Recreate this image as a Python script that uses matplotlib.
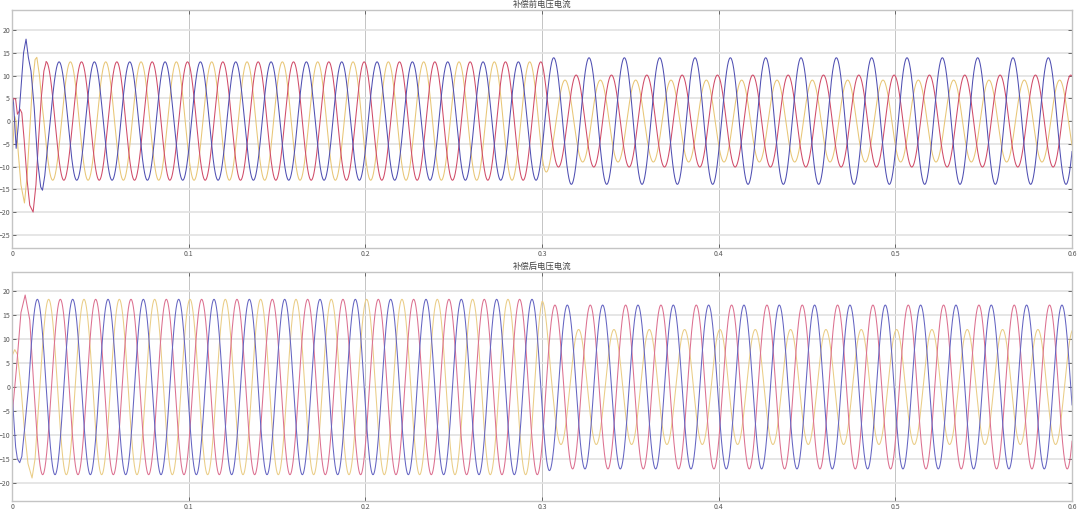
import numpy as np
import matplotlib
matplotlib.use("Agg")
import matplotlib.pyplot as plt

plt.rcParams['font.family'] = ['Noto Sans CJK SC', 'DejaVu Sans']

# ---------------- 数据 ----------------
FREQ = 50.0          # Hz
T_END = 0.6
T_SWITCH = 0.3       # 负载切换时刻
T_RAMP = 0.306

PHASES = ['A', 'B', 'C']

# 补偿前：稳态峰值时刻(一个周期内)、切换前后幅值
top_peak_time = [0.0066, 0.0193, 0.0130]
top_amp_before = [13.0, 13.0, 13.0]
top_amp_after = [13.9, 10.1, 9.0]

# 补偿前启动暂态 (t, 值)
top_tr_t_A = [0, 0.0008, 0.0023, 0.0035, 0.0048, 0.0065, 0.0079, 0.0092, 0.0107,
              0.0125, 0.0145, 0.0162, 0.0172, 0.0185, 0.0200, 0.0216]
top_tr_v_A = [5.5, 4.0, -6.0, -1.0, 6.0, 15.0, 18.0, 14.0, 11.0,
              3.0, -9.0, -14.5, -15.2, -12.0, -6.0, 0.0]
top_tr_t_B = [0, 0.0008, 0.0020, 0.0030, 0.0038, 0.0045, 0.0055, 0.0068, 0.0085,
              0.0100, 0.0119, 0.0135, 0.0150, 0.0165, 0.0180, 0.0193]
top_tr_v_B = [3.0, 5.0, 4.8, 1.5, 2.0, 2.6, 1.8, -4.0, -13.0,
              -18.5, -20.0, -14.0, -4.0, 5.0, 11.0, 13.0]
top_tr_t_C = [0, 0.0008, 0.0015, 0.0022, 0.0035, 0.0050, 0.0070, 0.0085, 0.0100,
              0.0115, 0.0130, 0.0140, 0.0155, 0.0170, 0.0180]
top_tr_v_C = [-8.0, -3.0, 1.0, 0.0, -7.0, -14.0, -18.0, -12.0, -2.0,
              8.0, 13.5, 14.0, 10.0, 3.5, 0.0]

# 补偿后
bot_peak_time = [0.0143, 0.0073, 0.0007]
bot_amp_before = [18.3, 18.3, 18.3]
bot_amp_after = [17.1, 17.1, 12.0]

bot_tr_t_A = [0, 0.0010, 0.0020, 0.0030, 0.0043, 0.0055, 0.0070, 0.0093]
bot_tr_v_A = [-1.0, -7.0, -12.5, -15.0, -15.8, -14.5, -9.0, 0.0]
bot_tr_t_B = [0, 0.0025, 0.0050, 0.0074, 0.0100, 0.0123]
bot_tr_v_B = [-6.0, 4.0, 15.5, 19.2, 14.0, 0.0]
bot_tr_t_C = [0, 0.0015, 0.0030, 0.0050, 0.0070, 0.0090, 0.0113, 0.0130, 0.0157]
bot_tr_v_C = [6.5, 7.8, 6.8, 0.0, -9.0, -16.0, -19.0, -15.0, 0.0]

top_colors = ['#4f4fb2', '#d04b68', '#e8c676']
bot_colors = ['#6464c2', '#dc7090', '#eacd86']


def draw_panel(ax, peak_t, amp0, amp1, tr_t, tr_v, colors, title, yticks, ylim):
    t = np.linspace(0, T_END, 24001)
    for i in [2, 1, 0]:
        t0 = tr_t[i][-1]
        ts = t[t >= t0]
        amp = np.interp(ts, [T_SWITCH, T_RAMP], [amp0[i], amp1[i]])
        ys = amp * np.cos(2 * np.pi * FREQ * (ts - peak_t[i]))
        ax.plot(tr_t[i], tr_v[i], color=colors[i], lw=0.75)
        ax.plot(ts, ys, color=colors[i], lw=0.75)
    ax.set_xlim(0, T_END)
    ax.set_ylim(*ylim)
    ax.set_xticks([0, 0.1, 0.2, 0.3, 0.4, 0.5, 0.6])
    ax.set_xticklabels(['0', '0.1', '0.2', '0.3', '0.4', '0.5', '0.6'])
    ax.set_yticks(yticks)
    ax.tick_params(labelsize=5, colors='#555555', direction='in', length=3,
                   width=0.6, pad=1.5, right=True, top=True)
    ax.xaxis.grid(True, color='#c4c4c4', lw=0.7)
    ax.yaxis.grid(True, color='#e2e2e2', lw=1.2)
    ax.set_axisbelow(True)
    for s in ax.spines.values():
        s.set_color('#c4c4c4')
        s.set_linewidth(1.0)
    ax.set_title(title, fontsize=6, pad=2, color='#444444')


fig = plt.figure(figsize=(10.8, 5.2), dpi=100)
ax1 = fig.add_axes([0.0112, 0.523, 0.9814, 0.4578])
ax2 = fig.add_axes([0.0112, 0.0365, 0.9814, 0.4404])

draw_panel(ax1, top_peak_time, top_amp_before, top_amp_after,
           [top_tr_t_A, top_tr_t_B, top_tr_t_C], [top_tr_v_A, top_tr_v_B, top_tr_v_C],
           top_colors, '补偿前电压电流', list(range(-25, 21, 5)), (-27.9, 24.4))
draw_panel(ax2, bot_peak_time, bot_amp_before, bot_amp_after,
           [bot_tr_t_A, bot_tr_t_B, bot_tr_t_C], [bot_tr_v_A, bot_tr_v_B, bot_tr_v_C],
           bot_colors, '补偿后电压电流', list(range(-20, 21, 5)), (-23.8, 24.0))

fig.savefig('out.png', dpi=100)
